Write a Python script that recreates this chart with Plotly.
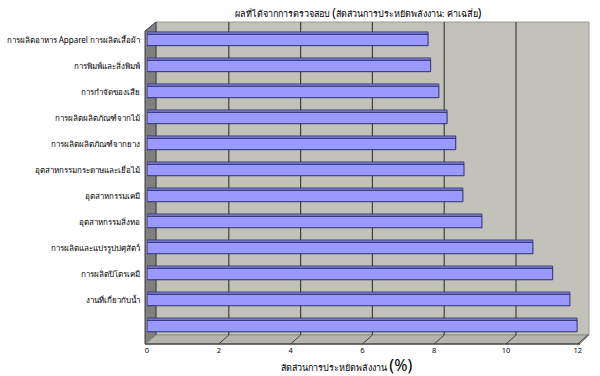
import plotly.graph_objects as go

categories = [
    "การผลิตอาหาร Apparel การผลิตเสื้อผ้า",
    "การพิมพ์และสิ่งพิมพ์",
    "การกำจัดของเสีย",
    "การผลิตผลิตภัณฑ์จากไม้",
    "การผลิตผลิตภัณฑ์จากยาง",
    "อุตสาหกรรมกระดาษและเยื่อไม้",
    "อุตสาหกรรมเคมี",
    "อุตสาหกรรมสิ่งทอ",
    "การผลิตและแปรรูปปศุสัตว์",
    "การผลิตปิโตรเคมี",
    "งานที่เกี่ยวกับน้ำ",
    " ",
]
values = [7.83, 7.9, 8.13, 8.36, 8.6, 8.83, 8.8, 9.33, 10.75, 11.3, 11.78, 11.98]
x_ticks = [0, 2, 4, 6, 8, 10, 12]
grid_vals = [2, 4, 6, 8, 10]

W, H = 600, 376
L, R, T, B = 147, 11, 22, 32
PW, PH = W - L - R, H - T - B
PX_PER_UNIT = 35.9
DEPTH = 9

def px(xp):
    return (xp - L) / PW

def py(yp):
    return (H - B - yp) / PH

font_fam = "Tahoma, 'Noto Sans', 'DejaVu Sans', sans-serif"

fig = go.Figure()
fig.add_trace(go.Bar(
    y=categories, x=values, orientation="h",
    width=0.44, offset=-0.22,
    marker=dict(color="#9999FF", line=dict(color="#2E2E6E", width=1)),
    hoverinfo="x+y", showlegend=False,
))
fig.add_trace(go.Bar(
    y=categories, x=values, orientation="h",
    width=0.09, offset=-0.31,
    marker=dict(color="#7F7FD8", line=dict(color="#2E2E6E", width=0.8)),
    hoverinfo="skip", showlegend=False,
))

shapes = []
# back wall
shapes.append(dict(type="rect", xref="paper", yref="paper", layer="below",
                   x0=px(L + DEPTH), x1=1.0, y0=py(H - B - DEPTH), y1=1.0,
                   fillcolor="#C2C2BA", line=dict(color="#9A9A94", width=1)))
# left wall
shapes.append(dict(type="path", xref="paper", yref="paper", layer="below",
                   path=f"M {px(L-2)} {py(H-B)} L {px(L-2)} {py(T+DEPTH)} L {px(L+DEPTH)} {py(T)} "
                        f"L {px(L+DEPTH)} {py(H-B-DEPTH)} Z",
                   fillcolor="#808080", line=dict(color="#3A3A3A", width=1)))
# floor
shapes.append(dict(type="path", xref="paper", yref="paper", layer="below",
                   path=f"M {px(L-2)} {py(H-B)} L {px(L+DEPTH)} {py(H-B-DEPTH)} L 1.0 {py(H-B-DEPTH)} "
                        f"L {px(L + 12*PX_PER_UNIT + 2)} {py(H-B)} Z",
                   fillcolor="#B5B5AE", line=dict(color="#8A8A84", width=1)))
# gridlines on back wall + floor tick marks
for v in grid_vals:
    shapes.append(dict(type="line", xref="x", yref="paper", layer="below",
                       xsizemode="pixel", xanchor=v, x0=DEPTH + 1, x1=DEPTH + 1,
                       y0=py(H - B - DEPTH), y1=1.0,
                       line=dict(color="#404040", width=1.2)))
for v in x_ticks[1:]:
    shapes.append(dict(type="line", xref="x", yref="paper", layer="below",
                       xsizemode="pixel", xanchor=v, x0=0, x1=DEPTH + 1,
                       y0=py(H - B), y1=py(H - B - DEPTH),
                       line=dict(color="#404040", width=1)))
# front axis line
shapes.append(dict(type="line", xref="paper", yref="paper", layer="above",
                   x0=px(L - 2), x1=px(L + 12*PX_PER_UNIT + 2), y0=0, y1=0,
                   line=dict(color="#202020", width=1)))

fig.update_layout(
    width=W, height=H,
    margin=dict(l=L, r=R, t=T, b=B, autoexpand=False),
    paper_bgcolor="white", plot_bgcolor="rgba(0,0,0,0)",
    barmode="overlay",
    font=dict(family=font_fam, size=8, color="#000000"),
    shapes=shapes,
    xaxis=dict(range=[0, PW / PX_PER_UNIT], tickvals=x_ticks, ticktext=[str(t) for t in x_ticks],
               showgrid=False, zeroline=False, showline=False, ticks="", automargin=False,
               tickfont=dict(size=7.5), fixedrange=True),
    yaxis=dict(type="category", categoryorder="array", categoryarray=categories,
               range=[11.69, -0.69], showgrid=False, zeroline=False, showline=False,
               ticks="", ticklabelstandoff=6, automargin=False,
               tickfont=dict(size=8), fixedrange=True),
    annotations=[
        dict(xref="paper", yref="paper", x=px(358), y=py(12), xanchor="center", yanchor="middle",
             showarrow=False, font=dict(size=9),
             text="ผลที่ได้จากการตรวจสอบ <span style='font-size:12px'>(</span>สัดส่วนการประหยัดพลังงาน: ค่าเฉลี่ย<span style='font-size:12px'>)</span>"),
        dict(xref="paper", yref="paper", x=px(346), y=py(365), xanchor="center", yanchor="middle",
             showarrow=False, font=dict(size=9),
             text="สัดส่วนการประหยัดพลังงาน <span style='font-size:16px'>(%)</span>"),
    ],
)

fig.write_html("out.html", config={"displayModeBar": False},
               post_script="document.body.style.margin='0';")
